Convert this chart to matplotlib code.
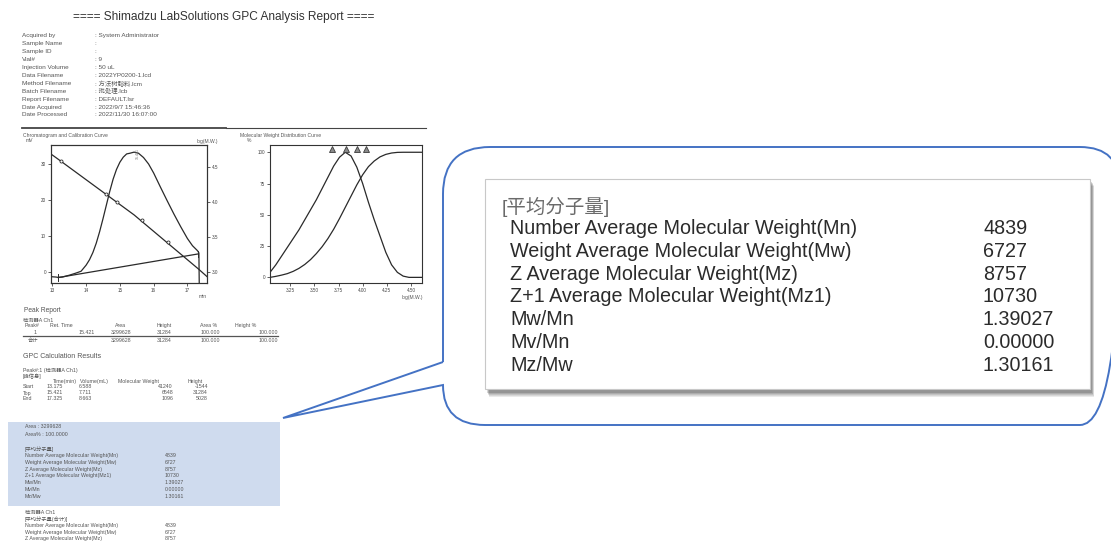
import numpy as np
import matplotlib.pyplot as plt
from matplotlib.patches import Rectangle, PathPatch
from matplotlib.path import Path

plt.rcParams['font.family'] = ['Liberation Sans', 'Noto Sans CJK SC', 'DejaVu Sans']

W, H = 1111, 545

# 报告头信息
info_labels = ['Acquired by', 'Sample Name', 'Sample ID', 'Vial#', 'Injection Volume',
               'Data Filename', 'Method Filename', 'Batch Filename', 'Report Filename',
               'Date Acquired', 'Date Processed']
info_values = ['System Administrator', '', '', '9', '50 uL', '2022YP0200-1.lcd',
               '方法树脂料.lcm', '批处理.lcb', 'DEFAULT.lsr', '2022/9/7 15:46:36',
               '2022/11/30 16:07:00']

# 色谱图 (min, mV)
chrom_time = [12.96, 13.1, 13.175, 13.3, 13.5, 13.7, 13.85, 14.0, 14.1, 14.2,
              14.3, 14.4, 14.5, 14.6, 14.7, 14.8, 14.9, 15.0, 15.1, 15.2,
              15.3, 15.42, 15.55, 15.7, 15.85, 16.0, 16.2, 16.4, 16.6, 16.8,
              17.0, 17.15, 17.3, 17.34, 17.35]
chrom_mv = [-1.3, -1.4, -1.5, -1.4, -0.9, -0.3, 0.2, 1.9, 3.4, 5.4,
            8.0, 11.2, 14.8, 18.6, 22.4, 25.8, 28.5, 30.5, 31.9, 32.8,
            33.0, 33.3, 33.0, 31.8, 30.0, 27.5, 23.6, 19.8, 16.1, 12.6,
            9.3, 7.3, 5.9, 5.3, -3.1]

# 校正曲线 (min, log M.W.)
cal_time = [12.96, 13.175, 15.421, 17.325, 17.58]
cal_logmw = [4.69, 4.615, 3.816, 3.04, 2.93]
std_time = [13.26, 14.58, 14.91, 15.66, 16.43]
std_logmw = [4.59, 4.12, 4.0, 3.74, 3.42]

# 峰表
peak_cols = ['Peak#', 'Ret. Time', 'Area', 'Height', 'Area %', 'Height %']
peak_row = ['1', '15.421', '3299628', '31284', '100.000', '100.000']
peak_total = ['合计', '', '3299628', '31284', '100.000', '100.000']

# GPC 计算结果
gpc_cols = ['Time(min)', 'Volume(mL)', 'Molecular Weight', 'Height']
gpc_rows = ['Start', 'Top', 'End']
gpc_time = [13.175, 15.421, 17.325]
gpc_volume = [6.588, 7.711, 8.663]
gpc_mw = [41240, 6548, 1096]
gpc_height = [-1544, 31284, 5028]  # uV

avg_names = ['Number Average Molecular Weight(Mn)', 'Weight Average Molecular Weight(Mw)',
             'Z Average Molecular Weight(Mz)', 'Z+1 Average Molecular Weight(Mz1)',
             'Mw/Mn', 'Mv/Mn', 'Mz/Mw']
avg_values = ['4839', '6727', '8757', '10730', '1.39027', '0.00000', '1.30161']

# 分子量分布 (log M.W., %)
mwd_logmw = [3.04, 3.10, 3.16, 3.22, 3.28, 3.34, 3.40, 3.46, 3.52, 3.58, 3.64, 3.70, 3.76,
             3.82, 3.88, 3.94, 4.00, 4.06, 4.12, 4.18, 4.24, 4.30, 4.36, 4.42, 4.48, 4.615]
mwd_diff = [4, 10, 17, 24, 31, 38, 46, 54, 62, 71, 80, 89, 96,
            100, 97, 88, 75, 60, 46, 33, 20, 10, 4, 1, 0, 0]
mwd_cum = [0, 0.8, 1.8, 3, 4.8, 7.2, 10.3, 14.2, 19, 24.5, 31, 38.5, 47,
           56, 65, 74, 82, 88.5, 93, 96.3, 98.3, 99.4, 99.9, 100, 100, 100]


def rect(x0, y0, x1, y1):
    return [x0 / W, 1 - y1 / H, (x1 - x0) / W, (y1 - y0) / H]


fig = plt.figure(figsize=(W / 100, H / 100), dpi=100)
ov = fig.add_axes([0, 0, 1, 1])
ov.set_xlim(0, W)
ov.set_ylim(H, 0)
ov.axis('off')

grey = '#555555'
dark = '#2a2a2a'


def put(x, y, s, size=3.8, color=grey, ha='left', **kw):
    ov.text(x, y, s, fontsize=size, color=color, ha=ha, va='center', **kw)


# 标题与头信息
put(224, 17, '==== Shimadzu LabSolutions GPC Analysis Report ====', size=8.6, color='#333333', ha='center')
for i, (lab, val) in enumerate(zip(info_labels, info_values)):
    put(22, 36 + 7.9 * i, lab, size=4.6)
    put(95, 36 + 7.9 * i, ': ' + val, size=4.6)
ov.plot([22, 226], [127.5, 127.5], color='#444444', lw=1.3)
ov.plot([226, 426], [127.5, 127.5], color='#444444', lw=0.8)

# 色谱图与校正曲线
put(23, 135, 'Chromatogram and Calibration Curve', size=3.6)
put(26, 141, 'mV', size=3.6)
put(218, 141, 'log(M.W.)', size=3.6, ha='right')
put(203, 296, 'min', size=3.6, ha='center')

ax1 = fig.add_axes(rect(51, 145, 207, 283))
ax1.plot(chrom_time, chrom_mv, color=dark, lw=0.9)
ax1.plot([gpc_time[0], gpc_time[2]], [gpc_height[0] / 1000, gpc_height[2] / 1000], color=dark, lw=0.9)
ax1.plot([gpc_time[0], gpc_time[0]], [gpc_height[0] / 1000 - 0.9, gpc_height[0] / 1000 + 0.9], color=dark, lw=0.7)
ax1.plot([gpc_time[2], gpc_time[2]], [gpc_height[2] / 1000 - 0.9, gpc_height[2] / 1000 + 0.9], color=dark, lw=0.7)
ax1.text(15.52, 31.5, '15.421', rotation=90, fontsize=2.6, color='#777777', ha='center', va='bottom')
ax1.set_xlim(12.96, 17.58)
ax1.set_ylim(-3.06, 35.28)
ax1.set_xticks([13, 14, 15, 16, 17])
ax1.set_yticks([0, 10, 20, 30])
ax1r = ax1.twinx()
ax1r.plot(cal_time, cal_logmw, color=dark, lw=0.9)
ax1r.plot(std_time, std_logmw, 'o', ms=2.2, mfc='white', mec=dark, mew=0.6)
ax1r.set_ylim(2.838, 4.82)
ax1r.set_yticks([3.0, 3.5, 4.0, 4.5])
ax1r.set_yticklabels(['%.1f' % v for v in [3.0, 3.5, 4.0, 4.5]])

# 分子量分布曲线
put(240, 135, 'Molecular Weight Distribution Curve', size=3.6)
put(247, 141, '%', size=3.6)
put(423, 297, 'log(M.W.)', size=3.6, ha='right')

ax2 = fig.add_axes(rect(270, 145, 422, 283))
ax2.plot(mwd_logmw, mwd_diff, color=dark, lw=0.9)
ax2.plot(mwd_logmw, mwd_cum, color=dark, lw=0.9)
marks = np.log10([float(v) for v in avg_values[:4]])
ax2.plot(marks, [102.3] * 4, '^', ms=5, mfc='#8a8a8a', mec='#3a3a3a', mew=0.6, clip_on=False)
ax2.set_xlim(3.04, 4.615)
ax2.set_ylim(-4.5, 105.8)
ax2.set_xticks([3.25, 3.50, 3.75, 4.00, 4.25, 4.50])
ax2.set_xticklabels(['%.2f' % v for v in [3.25, 3.50, 3.75, 4.00, 4.25, 4.50]])
ax2.set_yticks([0, 25, 50, 75, 100])

for a in (ax1, ax1r, ax2):
    a.tick_params(labelsize=3.3, length=2, width=0.6, pad=1.5, colors='#444444')
    for s in a.spines.values():
        s.set_linewidth(0.8)
        s.set_color('#333333')

# 峰报告
put(24, 310, 'Peak Report', size=4.8)
put(23, 320, '检测器A Ch1', size=3.8)
col_left = [25, 50, 115, 157, 200, 235]
col_right = [37, 95, 131, 172, 220, 278]
for x, c in zip(col_left, peak_cols):
    put(x, 325.5, c)
for x, v in zip(col_right, peak_row):
    put(x, 332, v, ha='right')
for x, v in zip(col_right, peak_total):
    put(x if v != '合计' else 28, 340.5, v, ha='right' if v != '合计' else 'left')
ov.plot([23, 278], [336, 336], color='#555555', lw=0.9)

# GPC 计算结果
put(23, 357, 'GPC Calculation Results', size=5)
put(23, 370, 'Peak#:1 (检测器A Ch1)')
put(23, 376, '[峰信息]')
for x, c in zip([53, 80, 118, 188], gpc_cols):
    put(x, 381, c)
for i, r in enumerate(gpc_rows):
    y = 387 + 6 * i
    put(23, y, r)
    put(63, y, '%.3f' % gpc_time[i], ha='right')
    put(92, y, '%.3f' % gpc_volume[i], ha='right')
    put(173, y, str(gpc_mw[i]), ha='right')
    put(208, y, str(gpc_height[i]), ha='right')

# 高亮框
ov.add_patch(Rectangle((8, 422), 272, 84, facecolor='#cfdbee', edgecolor='none'))
put(25, 427, 'Area : 3299628')
put(25, 434, 'Area% : 100.0000')
put(25, 449, '[平均分子量]')
for i, (n, v) in enumerate(zip(avg_names, avg_values)):
    put(25, 455.5 + 6.83 * i, n)
    put(165, 455.5 + 6.83 * i, v)

put(25, 513, '检测器A Ch1')
put(25, 519, '[平均分子量(合计)]')
for i, (n, v) in enumerate(zip(avg_names[:3], avg_values[:3])):
    put(25, 525.5 + 6.7 * i, n)
    put(165, 525.5 + 6.7 * i, v)

# 放大的标注框
verts = [(443, 362), (443, 194), (443, 147), (490, 147), (1080, 147), (1120, 147), (1120, 187),
         (1120, 385), (1120, 425), (1080, 425), (485, 425), (443, 425), (443, 385),
         (283, 418), (443, 362)]
codes = [Path.MOVETO, Path.LINETO, Path.CURVE3, Path.CURVE3, Path.LINETO, Path.CURVE3, Path.CURVE3,
         Path.LINETO, Path.CURVE3, Path.CURVE3, Path.LINETO, Path.CURVE3, Path.CURVE3,
         Path.LINETO, Path.LINETO]
ov.add_patch(PathPatch(Path(verts, codes), facecolor='none', edgecolor='#4472c4', lw=1.4, clip_on=False))

for k, al in enumerate([0.10, 0.10, 0.12, 0.15, 0.2]):
    d = 5 - k
    ov.add_patch(Rectangle((487 + d * 0.4, 181 + d), 605, 211, facecolor='#333333', edgecolor='none', alpha=al))
ov.add_patch(Rectangle((485, 179), 605, 210, facecolor='white', edgecolor='#c8c8c8', lw=0.8))

put(502, 207, '[平均分子量]', size=14, color='#6a6a6a')
for i, (n, v) in enumerate(zip(avg_names, avg_values)):
    y = 228.5 + 22.8 * i
    put(510, y, n, size=14.2, color='#2b2b2b')
    put(983, y, v, size=14.2, color='#2b2b2b')

fig.savefig('out.png', dpi=100)
